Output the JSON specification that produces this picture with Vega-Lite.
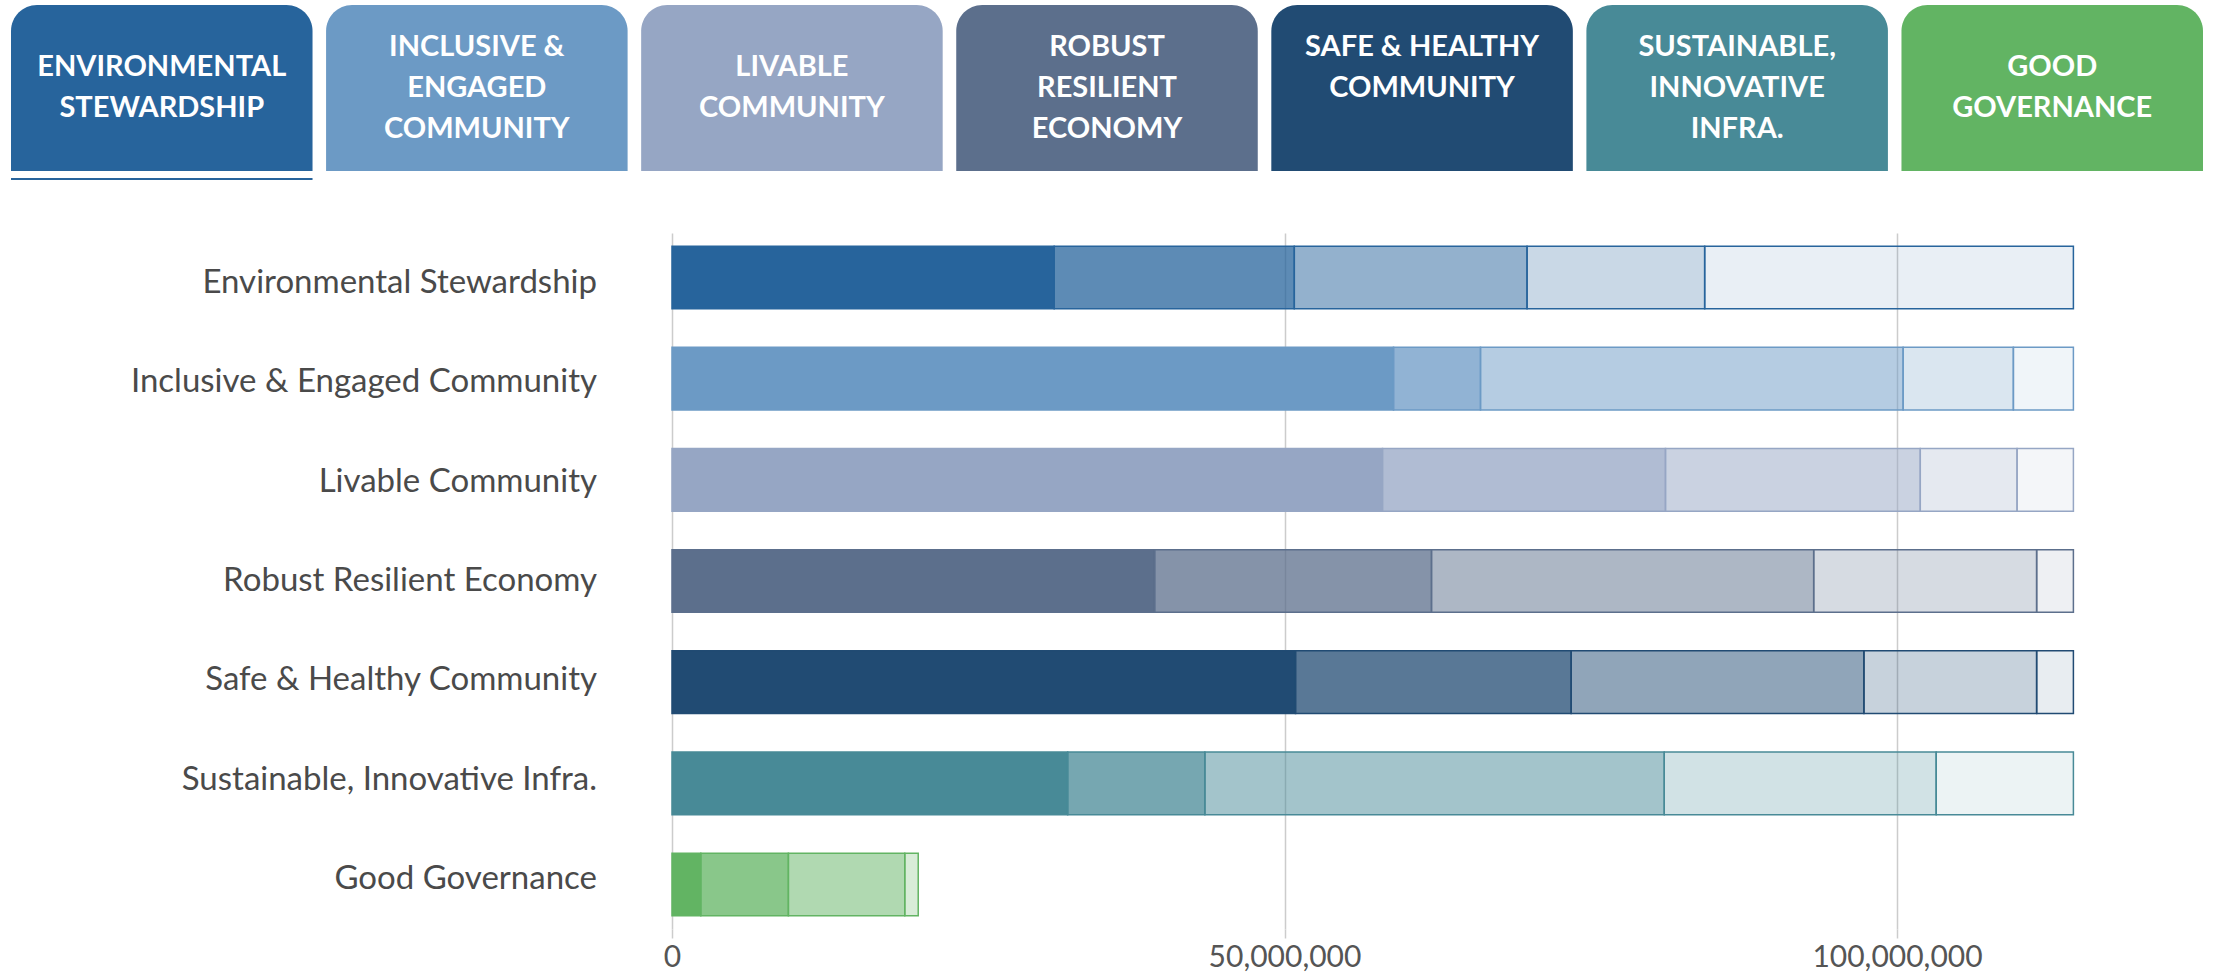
{
  "$schema": "https://vega.github.io/schema/vega-lite/v6.json",
  "padding": {"left": 11, "top": 5, "right": 0, "bottom": 0},
  "background": "white",
  "config": {"view": {"stroke": null}, "font": "Lato"},
  "datasets": {
    "tabs": [
      {"tab": "Environmental Stewardship", "label": ["ENVIRONMENTAL", "STEWARDSHIP"], "selected": true},
      {"tab": "Inclusive & Engaged Community", "label": ["INCLUSIVE &", "ENGAGED", "COMMUNITY"], "selected": false},
      {"tab": "Livable Community", "label": ["LIVABLE", "COMMUNITY"], "selected": false},
      {"tab": "Robust Resilient Economy", "label": ["ROBUST", "RESILIENT", "ECONOMY"], "selected": false},
      {"tab": "Safe & Healthy Community", "label": ["SAFE & HEALTHY", "COMMUNITY", " "], "selected": false},
      {"tab": "Sustainable, Innovative Infra.", "label": ["SUSTAINABLE,", "INNOVATIVE", "INFRA."], "selected": false},
      {"tab": "Good Governance", "label": ["GOOD", "GOVERNANCE"], "selected": false}
    ],
    "bars": [
      {"category": "Environmental Stewardship", "level": 1, "value": 31200000},
      {"category": "Environmental Stewardship", "level": 2, "value": 19600000},
      {"category": "Environmental Stewardship", "level": 3, "value": 19000000},
      {"category": "Environmental Stewardship", "level": 4, "value": 14500000},
      {"category": "Environmental Stewardship", "level": 5, "value": 30100000},
      {"category": "Inclusive & Engaged Community", "level": 1, "value": 58900000},
      {"category": "Inclusive & Engaged Community", "level": 2, "value": 7100000},
      {"category": "Inclusive & Engaged Community", "level": 3, "value": 34500000},
      {"category": "Inclusive & Engaged Community", "level": 4, "value": 9000000},
      {"category": "Inclusive & Engaged Community", "level": 5, "value": 4900000},
      {"category": "Livable Community", "level": 1, "value": 58000000},
      {"category": "Livable Community", "level": 2, "value": 23100000},
      {"category": "Livable Community", "level": 3, "value": 20800000},
      {"category": "Livable Community", "level": 4, "value": 7900000},
      {"category": "Livable Community", "level": 5, "value": 4600000},
      {"category": "Robust Resilient Economy", "level": 1, "value": 39400000},
      {"category": "Robust Resilient Economy", "level": 2, "value": 22600000},
      {"category": "Robust Resilient Economy", "level": 3, "value": 31200000},
      {"category": "Robust Resilient Economy", "level": 4, "value": 18200000},
      {"category": "Robust Resilient Economy", "level": 5, "value": 3000000},
      {"category": "Safe & Healthy Community", "level": 1, "value": 50900000},
      {"category": "Safe & Healthy Community", "level": 2, "value": 22500000},
      {"category": "Safe & Healthy Community", "level": 3, "value": 23900000},
      {"category": "Safe & Healthy Community", "level": 4, "value": 14100000},
      {"category": "Safe & Healthy Community", "level": 5, "value": 3000000},
      {"category": "Sustainable, Innovative Infra.", "level": 1, "value": 32300000},
      {"category": "Sustainable, Innovative Infra.", "level": 2, "value": 11200000},
      {"category": "Sustainable, Innovative Infra.", "level": 3, "value": 37500000},
      {"category": "Sustainable, Innovative Infra.", "level": 4, "value": 22200000},
      {"category": "Sustainable, Innovative Infra.", "level": 5, "value": 11200000},
      {"category": "Good Governance", "level": 1, "value": 2350000},
      {"category": "Good Governance", "level": 2, "value": 7150000},
      {"category": "Good Governance", "level": 3, "value": 9500000},
      {"category": "Good Governance", "level": 4, "value": 1100000}
    ]
  },
  "vconcat": [
    {
      "width": 2192,
      "height": 176,
      "data": {"name": "tabs"},
      "layer": [
        {
          "mark": {"type": "rect", "cornerRadiusTopLeft": 26, "cornerRadiusTopRight": 26},
          "encoding": {
            "x": {"field": "tab", "type": "nominal", "sort": null, "scale": {"paddingInner": 0.043, "paddingOuter": 0}, "axis": null},
            "y": {"datum": 0, "type": "quantitative", "scale": {"domain": [-0.06, 1], "nice": false, "zero": false}, "axis": null},
            "y2": {"datum": 1},
            "color": {"field": "tab", "type": "nominal", "legend": null,
              "scale": {"domain": ["Environmental Stewardship", "Inclusive & Engaged Community", "Livable Community", "Robust Resilient Economy", "Safe & Healthy Community", "Sustainable, Innovative Infra.", "Good Governance"],
                        "range": ["#27649c", "#6c9ac5", "#96a6c4", "#5c6f8c", "#214b73", "#488a97", "#62b463"]}}
          }
        },
        {
          "transform": [{"filter": "datum.selected"}],
          "mark": {"type": "rect"},
          "encoding": {
            "x": {"field": "tab", "type": "nominal", "sort": null},
            "y": {"datum": -0.042, "type": "quantitative"},
            "y2": {"datum": -0.054},
            "color": {"field": "tab", "type": "nominal", "legend": null}
          }
        },
        {
          "transform": [{"filter": "length(datum.label) == 2"}],
          "mark": {"type": "text", "fontSize": 29, "fontWeight": "bold", "color": "white", "lineHeight": 41, "align": "center", "baseline": "middle", "font": "Lato", "dy": -21},
          "encoding": {
            "x": {"field": "tab", "type": "nominal", "sort": null},
            "y": {"datum": 0.5, "type": "quantitative"},
            "text": {"field": "label"}
          }
        },
        {
          "transform": [{"filter": "length(datum.label) == 3"}],
          "mark": {"type": "text", "fontSize": 29, "fontWeight": "bold", "color": "white", "lineHeight": 41, "align": "center", "baseline": "middle", "font": "Lato", "dy": -41},
          "encoding": {
            "x": {"field": "tab", "type": "nominal", "sort": null},
            "y": {"datum": 0.5, "type": "quantitative"},
            "text": {"field": "label"}
          }
        }
      ]
    },
    {
      "spacing": 66,
      "hconcat": [
        {
          "width": 586,
          "height": 696,
          "data": {"name": "tabs"},
          "mark": {"type": "text", "align": "right", "baseline": "middle", "fontSize": 33, "color": "#4a4a4a", "font": "Lato"},
          "encoding": {
            "y": {"field": "tab", "type": "nominal", "sort": null, "scale": {"paddingInner": 0.38, "paddingOuter": 0.13}, "axis": null},
            "x": {"datum": 1, "type": "quantitative", "scale": {"domain": [0, 1]}, "axis": null},
            "text": {"field": "tab"}
          }
        },
        {
          "width": 1470,
          "height": 696,
          "data": {"name": "bars"},
          "mark": {"type": "bar", "strokeWidth": 1.5},
          "encoding": {
            "y": {"field": "category", "type": "nominal", "sort": null, "scale": {"paddingInner": 0.38, "paddingOuter": 0.13}, "axis": null},
            "x": {"field": "value", "type": "quantitative", "stack": "zero",
              "scale": {"domain": [0, 120000000], "nice": false},
              "axis": {"values": [0, 50000000, 100000000], "format": ",d", "title": null, "grid": true, "gridColor": "#cccccc", "gridWidth": 1.5, "domain": false, "ticks": true, "tickColor": "#cccccc", "tickSize": 9, "tickWidth": 1.5, "labelFontSize": 30, "labelColor": "#555555", "labelFont": "Lato", "labelPadding": 4, "labelFlush": false}},
            "order": {"field": "level", "type": "quantitative"},
            "color": {"field": "category", "type": "nominal", "legend": null},
            "stroke": {"field": "category", "type": "nominal", "legend": null,
              "scale": {"domain": ["Environmental Stewardship", "Inclusive & Engaged Community", "Livable Community", "Robust Resilient Economy", "Safe & Healthy Community", "Sustainable, Innovative Infra.", "Good Governance"],
                        "range": ["#27649c", "#6c9ac5", "#96a6c4", "#5c6f8c", "#214b73", "#488a97", "#62b463"]}},
            "fillOpacity": {"field": "level", "type": "quantitative", "legend": null, "scale": {"domain": [1, 2, 3, 4, 5], "range": [1, 0.75, 0.5, 0.25, 0.1], "zero": false, "nice": false}}
          }
        }
      ]
    }
  ],
  "spacing": 52
}
